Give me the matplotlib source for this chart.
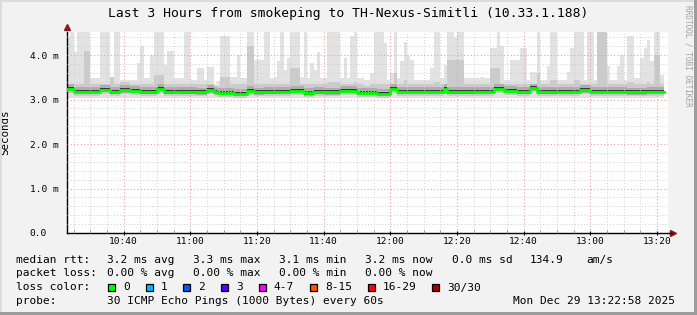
import numpy as np
import matplotlib
matplotlib.use("Agg")
from matplotlib import pyplot as plt
from matplotlib.patches import Rectangle

# minutes after 10:23, one smokeping step per minute
start_hour, start_min = 10, 23

# median rtt (ms) per step
rtt_median = [
    3.24, 3.24, 3.18, 3.18, 3.18, 3.18, 3.18, 3.18, 3.18, 3.18,
    3.22, 3.22, 3.22, 3.17, 3.17, 3.17, 3.21, 3.21, 3.21, 3.20,
    3.20, 3.20, 3.17, 3.17, 3.17, 3.17, 3.17, 3.24, 3.24, 3.17,
    3.17, 3.17, 3.18, 3.18, 3.17, 3.17, 3.17, 3.17, 3.17, 3.16,
    3.16, 3.16, 3.21, 3.21, 3.17, 3.15, 3.15, 3.15, 3.15, 3.15,
    3.13, 3.13, 3.13, 3.13, 3.20, 3.20, 3.16, 3.16, 3.16, 3.17,
    3.17, 3.17, 3.17, 3.17, 3.18, 3.18, 3.18, 3.20, 3.20, 3.20,
    3.20, 3.14, 3.14, 3.14, 3.17, 3.17, 3.17, 3.16, 3.16, 3.16,
    3.16, 3.16, 3.20, 3.20, 3.20, 3.20, 3.20, 3.15, 3.15, 3.15,
    3.15, 3.15, 3.15, 3.13, 3.13, 3.13, 3.13, 3.24, 3.24, 3.18,
    3.18, 3.18, 3.18, 3.18, 3.18, 3.18, 3.18, 3.18, 3.18, 3.18,
    3.18, 3.18, 3.18, 3.24, 3.17, 3.17, 3.17, 3.17, 3.17, 3.17,
    3.17, 3.17, 3.18, 3.18, 3.18, 3.18, 3.18, 3.18, 3.24, 3.24,
    3.24, 3.20, 3.20, 3.20, 3.20, 3.17, 3.17, 3.17, 3.17, 3.25,
    3.25, 3.17, 3.17, 3.17, 3.17, 3.17, 3.17, 3.18, 3.18, 3.18,
    3.18, 3.18, 3.18, 3.18, 3.21, 3.21, 3.21, 3.18, 3.18, 3.18,
    3.18, 3.18, 3.18, 3.18, 3.18, 3.18, 3.18, 3.18, 3.16, 3.16,
    3.16, 3.16, 3.16, 3.16, 3.18, 3.18, 3.18, 3.18, 3.18,
]

# slowest ping per step (ms), light smoke top
rtt_max = [
    4.40, 4.60, 4.07, 4.60, 4.60, 4.60, 4.60, 3.48, 3.48, 3.48,
    4.60, 4.60, 4.60, 3.48, 4.60, 4.60, 3.45, 3.45, 3.45, 3.45,
    3.45, 3.82, 4.20, 3.48, 3.48, 4.00, 4.60, 4.60, 4.60, 3.78,
    4.10, 4.10, 3.48, 3.48, 3.48, 4.60, 4.60, 3.45, 3.45, 3.70,
    3.70, 3.45, 3.73, 3.73, 3.35, 3.42, 4.42, 4.42, 4.42, 3.50,
    3.50, 4.00, 3.48, 3.48, 4.55, 4.55, 3.90, 3.90, 3.90, 4.55,
    4.55, 3.48, 3.50, 3.86, 4.55, 3.67, 3.93, 4.55, 4.55, 4.55,
    3.50, 4.55, 3.48, 3.82, 3.67, 4.08, 3.48, 3.48, 4.55, 4.55,
    4.55, 4.55, 3.48, 3.93, 3.48, 4.42, 4.55, 3.48, 3.48, 3.45,
    3.45, 3.60, 4.55, 4.55, 4.55, 4.27, 3.45, 3.60, 4.55, 3.48,
    3.86, 4.30, 3.97, 3.90, 3.45, 3.45, 3.45, 3.45, 3.45, 3.70,
    4.55, 4.55, 3.48, 3.78, 4.55, 4.55, 4.40, 4.55, 4.55, 3.48,
    3.48, 3.48, 3.48, 3.48, 3.50, 3.48, 3.48, 4.16, 4.16, 4.55,
    4.20, 3.45, 3.45, 3.90, 3.90, 3.90, 4.16, 4.16, 3.45, 3.63,
    3.63, 4.55, 3.45, 3.45, 3.75, 4.55, 4.55, 3.45, 3.45, 3.45,
    3.63, 4.16, 4.55, 4.55, 4.55, 3.45, 4.55, 4.55, 3.45, 4.55,
    4.55, 4.55, 3.75, 3.45, 3.45, 3.75, 4.00, 3.45, 4.42, 4.42,
    3.48, 3.48, 3.93, 4.16, 4.35, 3.86, 4.55, 4.55, 3.55,
]

# upper part of the darker smoke (ms)
rtt_hi = [
    3.36, 3.36, 3.36, 3.36, 3.36, 4.10, 4.10, 3.36, 3.36, 3.36,
    3.36, 3.36, 3.36, 3.50, 3.36, 3.36, 3.40, 3.40, 3.40, 3.36,
    3.36, 3.36, 3.36, 3.36, 3.36, 3.36, 3.55, 3.55, 3.55, 3.36,
    3.36, 3.36, 3.36, 3.36, 3.36, 3.36, 3.36, 3.36, 3.36, 3.36,
    3.36, 3.36, 3.36, 3.36, 3.30, 3.30, 3.50, 3.50, 3.50, 3.36,
    3.36, 3.36, 3.36, 3.36, 4.20, 4.20, 3.36, 3.36, 3.36, 3.36,
    3.36, 3.36, 3.36, 3.36, 3.36, 3.36, 3.36, 3.70, 3.70, 3.70,
    3.36, 3.36, 3.36, 3.36, 3.36, 3.36, 3.36, 3.36, 3.40, 3.40,
    3.40, 3.40, 3.36, 3.36, 3.36, 3.36, 3.40, 3.36, 3.36, 3.30,
    3.30, 3.36, 3.36, 3.36, 3.36, 3.36, 3.36, 3.36, 3.60, 3.36,
    3.36, 3.45, 3.36, 3.36, 3.36, 3.36, 3.36, 3.36, 3.36, 3.36,
    3.40, 3.40, 3.36, 3.36, 3.90, 3.90, 3.90, 3.90, 3.90, 3.36,
    3.36, 3.36, 3.36, 3.36, 3.36, 3.36, 3.36, 3.70, 3.70, 3.70,
    3.36, 3.36, 3.36, 3.36, 3.36, 3.36, 3.36, 3.36, 3.36, 3.36,
    3.36, 3.60, 3.36, 3.36, 3.36, 3.45, 3.45, 3.36, 3.36, 3.36,
    3.36, 3.36, 3.45, 3.45, 3.36, 3.36, 3.36, 3.36, 3.36, 4.55,
    4.55, 4.55, 3.36, 3.36, 3.36, 3.36, 3.36, 3.36, 3.40, 3.40,
    3.36, 3.36, 3.36, 3.36, 3.40, 3.36, 4.00, 4.00, 3.36,
]
rtt_floor = 3.03

time_labels = ['10:40', '11:00', '11:20', '11:40', '12:00', '12:20', '12:40', '13:00', '13:20']
y_values = [0, 1, 2, 3, 4]
y_labels = ['0.0', '1.0 m', '2.0 m', '3.0 m', '4.0 m']

loss_labels = ['0', '1', '2', '3', '4-7', '8-15', '16-29', '30/30']
loss_colors = ['#00ff00', '#00b8ff', '#0059ff', '#5e00ff', '#ff00ff', '#ff5500', '#ff0000', '#a10000']

title_str = 'Last 3 Hours from smokeping to TH-Nexus-Simitli (10.33.1.188)'
stats_rtt = ['3.2 ms avg', '3.3 ms max', '3.1 ms min', '3.2 ms now', '0.0 ms sd', '134.9', 'am/s']
stats_loss = ['0.00 % avg', '0.00 % max', '0.00 % min', '0.00 % now']
probe_str = '30 ICMP Echo Pings (1000 Bytes) every 60s'
date_str = 'Mon Dec 29 13:22:58 2025'

W, H = 697, 315
mono = 'DejaVu Sans Mono'
plt.rcParams['font.family'] = mono

fig = plt.figure(figsize=(W / 100, H / 100), dpi=100, facecolor='#f2f2f2')
ax = fig.add_axes([67 / W, (H - 233) / H, 601 / W, 201 / H])
ax.set_facecolor('white')

med = np.array(rtt_median)
n = len(med)
x = np.arange(n + 1)


def ext(a):
    a = np.asarray(a, dtype=float)
    return np.append(a, a[-1])


# smoke layers, lightest first
ax.fill_between(x, rtt_floor, ext(rtt_max), step='post', color='#e2e2e2', lw=0, zorder=1)
ax.fill_between(x, ext(med - 0.09), ext(rtt_hi), step='post', color='#cbcbcb', lw=0, zorder=1.1)
ax.fill_between(x, ext(med - 0.055), ext(med + 0.11), step='post', color='#adadad', lw=0, zorder=1.2)
ax.fill_between(x, ext(med - 0.035), ext(med + 0.045), step='post', color='#3a3a3a', lw=0, zorder=1.3)
ax.step(x, ext(med), where='post', color='#00ff00', lw=2.0, zorder=3)

# axes / grid
t_major = [(int(s[:2]) - start_hour) * 60 + int(s[3:]) - start_min for s in time_labels]
ax.set_xlim(0, 180.3)
ax.set_ylim(0, 4.52)
ax.set_xticks(t_major)
ax.set_xticklabels(time_labels)
ax.set_xticks(np.arange(2, 180, 5), minor=True)
ax.set_yticks(y_values)
ax.set_yticklabels(y_labels)
ax.set_yticks(np.arange(0.2, 4.5, 0.2), minor=True)

ax.grid(which='minor', color='#cfcfcf', ls=(0, (1, 2)), lw=0.7)
ax.grid(which='major', color='#f0a0a0', ls=(0, (1, 2)), lw=0.8)
ax.set_axisbelow(False)

ax.tick_params(axis='x', which='major', length=3, direction='inout', width=0.8, labelsize=6.8, pad=1.5)
ax.tick_params(axis='x', which='minor', length=2, direction='in', width=0.6, color='#888888')
ax.tick_params(axis='y', which='both', length=0)
ax.tick_params(axis='y', which='major', labelsize=6.8, pad=27)
for lab in ax.get_yticklabels():
    lab.set_horizontalalignment('left')

for s in ['top', 'right']:
    ax.spines[s].set_visible(False)
ax.spines['left'].set_linewidth(1.0)
ax.spines['bottom'].set_linewidth(1.0)
ax.spines['bottom'].set_bounds(0, 181.5)
ax.plot([0], [1.025], marker='^', color='#8b1a1a', ms=4, transform=ax.transAxes, clip_on=False)
ax.plot([1.008], [0], marker='>', color='#8b1a1a', ms=4, transform=ax.transAxes, clip_on=False)

ax.set_ylabel('Seconds', fontsize=7.8)
ax.yaxis.set_label_coords(-(67 - 10) / 601, 0.5)

# titles
fig.text(0.5, 1 - 13 / H, title_str, ha='center', va='center', fontsize=9.4)
fig.text(688 / W, 1 - 5 / H, 'RRDTOOL / TOBI OETIKER', rotation=270, ha='center', va='top',
         fontsize=5.6, color='#a0a0a0')

# legend block
def ftext(px, py, s, **kw):
    fig.text(px / W, 1 - py / H, s, va='center', ha='left', fontsize=8, **kw)


rows = [260, 273.5, 287.5, 301]
ftext(16, rows[0], 'median rtt:')
for px, s in zip([107, 193, 279, 365, 452, 530, 586], stats_rtt):
    ftext(px, rows[0], s)
ftext(16, rows[1], 'packet loss:')
for px, s in zip([107, 193, 279, 365], stats_loss):
    ftext(px, rows[1], s)
ftext(16, rows[2], 'loss color:')
bx = 108
for lab, col in zip(loss_labels, loss_colors):
    fig.patches.append(Rectangle((bx / W, 1 - (rows[2] + 3.5) / H), 7 / W, 7 / H,
                                 transform=fig.transFigure, facecolor=col,
                                 edgecolor='black', lw=0.9))
    ftext(bx + 15, rows[2], lab)
    bx += 31 + 6.7 * len(lab)
ftext(16, rows[3], 'probe:')
ftext(107, rows[3], probe_str)
ftext(513, rows[3], date_str)

# frame
fig.patches.append(Rectangle((0, 0), 2 / W, 1, transform=fig.transFigure, color='#dcdcdc', lw=0))
fig.patches.append(Rectangle((0, 1 - 2 / H), 1, 2 / H, transform=fig.transFigure, color='#dcdcdc', lw=0))
fig.patches.append(Rectangle((0, 0), 1, 3 / H, transform=fig.transFigure, color='#9c9c9c', lw=0))
fig.patches.append(Rectangle((1 - 3 / W, 0), 3 / W, 1, transform=fig.transFigure, color='#9c9c9c', lw=0))

fig.savefig('out.png', dpi=100, facecolor=fig.get_facecolor())
